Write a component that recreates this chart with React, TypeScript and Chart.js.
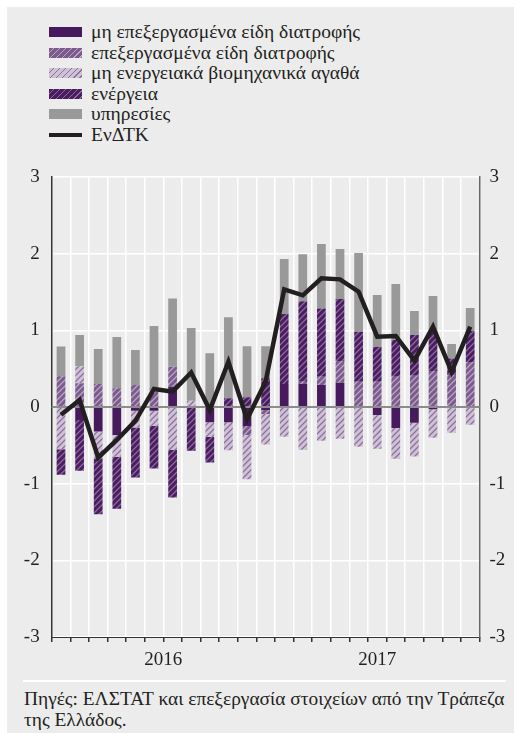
import React, { useEffect, useRef } from 'react';
import { Chart, registerables } from 'chart.js';

Chart.register(...registerables);

// ---- data ----
const monthLabels = [
  'Ιαν 16', 'Φεβ 16', 'Μαρ 16', 'Απρ 16', 'Μαϊ 16', 'Ιουν 16', 'Ιουλ 16', 'Αυγ 16', 'Σεπ 16', 'Οκτ 16', 'Νοε 16', 'Δεκ 16',
  'Ιαν 17', 'Φεβ 17', 'Μαρ 17', 'Απρ 17', 'Μαϊ 17', 'Ιουν 17', 'Ιουλ 17', 'Αυγ 17', 'Σεπ 17', 'Οκτ 17', 'Νοε 17',
];
const yearLabels = ['2016', '2017'];
const monthsPerYear = [12, 11];
const yTickValues = [-3, -2, -1, 0, 1, 2, 3];

const unprocessedFood = [0, -0.17, -0.32, -0.365, -0.05, -0.05, 0.265, 0, -0.2, -0.2, -0.248, -0.04, 0.3, 0.3, 0.287, 0.317, 0, -0.104, -0.274, -0.204, -0.03, 0, 0];
const processedFood = [0.4, 0.31, 0.3, 0.243, 0.287, 0.243, 0.26, 0, 0, 0, -0.117, -0.05, 0, 0.03, 0.109, 0.283, 0.33, 0.33, 0.396, 0.409, 0.47, 0.417, 0.587];
const nonEnergyGoods = [-0.55, 0.22, -0.35, -0.283, -0.217, -0.196, -0.56, 0.08, -0.19, -0.365, -0.578, -0.4, -0.387, -0.557, -0.44, -0.413, -0.517, -0.44, -0.4, -0.443, -0.37, -0.335, -0.23];
const energy = [-0.335, -0.66, -0.73, -0.678, -0.652, -0.557, -0.62, -0.57, -0.335, 0.113, 0.126, 0.374, 0.913, 1.05, 0.89, 0.81, 0.652, 0.457, 0.478, 0.53, 0.513, 0.217, 0.404];
const services = [0.39, 0.41, 0.456, 0.67, 0.457, 0.813, 0.89, 0.95, 0.7, 1.057, 0.665, 0.417, 0.717, 0.613, 0.84, 0.65, 1.026, 0.674, 0.73, 0.313, 0.465, 0.187, 0.3];
const hicp = [-0.1, 0.09, -0.66, -0.43, -0.18, 0.235, 0.2, 0.45, -0.04, 0.59, -0.16, 0.33, 1.535, 1.457, 1.678, 1.665, 1.504, 0.917, 0.926, 0.604, 1.048, 0.46, 1.048];

const seriesNames = [
  'μη επεξεργασμένα είδη διατροφής',
  'επεξεργασμένα είδη διατροφής',
  'μη ενεργειακά βιομηχανικά αγαθά',
  'ενέργεια',
  'υπηρεσίες',
  'ΕνΔΤΚ',
];

// ---- styles ----
const FONT = '"Liberation Serif", "Times New Roman", serif';
const TEXT = '#231f20';
const C_DARK = '#461a5c';
const P_PROC = { bg: '#7b5b8c', fg: '#b9a5c5' };
const P_NONEN = { bg: '#cfc1d6', fg: '#8d719d' };
const P_ENERGY = { bg: '#4a1d60', fg: '#8a6b9c' };
const C_SERV = '#999999';
const C_LINE = '#231f20';
const AXIS_FONT_SIZE = 19;

function makePattern(bg: string, fg: string): CanvasPattern | string {
  const s = 6;
  const c = document.createElement('canvas');
  c.width = s;
  c.height = s;
  const g = c.getContext('2d');
  if (!g) return bg;
  g.fillStyle = bg;
  g.fillRect(0, 0, s, s);
  g.strokeStyle = fg;
  g.lineWidth = 1.3;
  g.beginPath();
  g.moveTo(-1, s + 1);
  g.lineTo(s + 1, -1);
  g.moveTo(-1, 1);
  g.lineTo(1, -1);
  g.moveTo(s - 1, s + 1);
  g.lineTo(s + 1, s - 1);
  g.stroke();
  const p = g.createPattern(c, 'repeat');
  return p || bg;
}

const cssHatch = (bg: string, fg: string) =>
  `repeating-linear-gradient(135deg, ${bg} 0px, ${bg} 3px, ${fg} 3px, ${fg} 4.2px)`;

const legendSwatches: React.CSSProperties[] = [
  { background: C_DARK, height: 10 },
  { background: cssHatch(P_PROC.bg, P_PROC.fg), height: 10 },
  { background: cssHatch(P_NONEN.bg, P_NONEN.fg), height: 10 },
  { background: cssHatch(P_ENERGY.bg, P_ENERGY.fg), height: 10 },
  { background: C_SERV, height: 10 },
  { background: C_LINE, height: 4 },
];

const zeroLinePlugin = {
  id: 'zeroLine',
  beforeDatasetDraw(chart: any, args: any) {
    if (args.meta.type !== 'line') return;
    const y = chart.scales.y.getPixelForValue(0);
    const { left, right } = chart.chartArea;
    const ctx = chart.ctx;
    ctx.save();
    ctx.strokeStyle = '#8c8c8c';
    ctx.lineWidth = 2;
    ctx.beginPath();
    ctx.moveTo(left, y);
    ctx.lineTo(right, y);
    ctx.stroke();
    ctx.restore();
  },
};

// year labels centred under each year's months on the category scale
const yearLabelPlugin = {
  id: 'yearLabels',
  afterDraw(chart: any) {
    const x = chart.scales.x;
    const ctx = chart.ctx;
    ctx.save();
    ctx.fillStyle = TEXT;
    ctx.font = `${AXIS_FONT_SIZE}px ${FONT}`;
    ctx.textAlign = 'center';
    ctx.textBaseline = 'middle';
    let acc = 0;
    monthsPerYear.forEach((n, i) => {
      const center = acc + (n - 1) / 2;
      ctx.fillText(yearLabels[i], x.getPixelForValue(center), chart.chartArea.bottom + 23);
      acc += n;
    });
    ctx.restore();
  },
};

export default function App() {
  const ref = useRef<HTMLCanvasElement | null>(null);

  useEffect(() => {
    const canvas = ref.current;
    if (!canvas) return;

    const barCommon = {
      type: 'bar' as const,
      borderWidth: 0,
      barPercentage: 0.47,
      categoryPercentage: 1,
      order: 1,
      stack: 'bars',
    };

    const tickFont = { family: FONT, size: AXIS_FONT_SIZE };

    const chart = new Chart(canvas, {
      type: 'bar',
      data: {
        labels: monthLabels,
        datasets: [
          { ...barCommon, label: seriesNames[0], data: unprocessedFood, backgroundColor: C_DARK },
          { ...barCommon, label: seriesNames[1], data: processedFood, backgroundColor: makePattern(P_PROC.bg, P_PROC.fg) as any },
          { ...barCommon, label: seriesNames[2], data: nonEnergyGoods, backgroundColor: makePattern(P_NONEN.bg, P_NONEN.fg) as any },
          { ...barCommon, label: seriesNames[3], data: energy, backgroundColor: makePattern(P_ENERGY.bg, P_ENERGY.fg) as any },
          { ...barCommon, label: seriesNames[4], data: services, backgroundColor: C_SERV },
          {
            type: 'line' as const,
            label: seriesNames[5],
            data: hicp,
            borderColor: C_LINE,
            backgroundColor: C_LINE,
            borderWidth: 4.5,
            pointRadius: 0,
            tension: 0,
            borderJoinStyle: 'miter',
            order: 0,
            stack: 'line',
          } as any,
        ],
      },
      options: {
        animation: false,
        responsive: false,
        maintainAspectRatio: false,
        layout: { padding: { top: 27, left: 0, right: 0, bottom: 0 } },
        plugins: { legend: { display: false }, tooltip: { enabled: false } },
        scales: {
          x: {
            type: 'category',
            stacked: true,
            offset: true,
            position: 'bottom',
            grid: { offset: true, color: '#ffffff', lineWidth: 1.5, tickColor: '#333333', tickLength: 5, drawTicks: true },
            border: { display: true, color: '#333333', width: 1 },
            ticks: { display: false },
            afterFit: (s: any) => { s.height = 33; },
          },
          y: {
            type: 'linear',
            position: 'left',
            stacked: true,
            min: -3,
            max: 3,
            afterBuildTicks: (s: any) => { s.ticks = yTickValues.map((v) => ({ value: v })); },
            grid: {
              drawTicks: false,
              color: (c: any) => (c.tick && c.tick.value === 0 ? '#8c8c8c' : '#ffffff'),
              lineWidth: (c: any) => (c.tick && c.tick.value === 0 ? 2 : 1.5),
            },
            border: { display: true, color: '#333333', width: 1.5 },
            ticks: { padding: 12, color: TEXT, font: tickFont },
            afterFit: (s: any) => { s.width = 44.7; },
          },
          y2: {
            type: 'linear',
            position: 'right',
            min: -3,
            max: 3,
            afterBuildTicks: (s: any) => { s.ticks = yTickValues.map((v) => ({ value: v })); },
            grid: { display: false, drawTicks: false },
            border: { display: true, color: '#666666', width: 1.5 },
            ticks: { padding: 10, color: TEXT, font: tickFont },
            afterFit: (s: any) => { s.width = 34.5; },
          },
        },
      } as any,
      plugins: [zeroLinePlugin, yearLabelPlugin],
    });

    return () => chart.destroy();
  }, []);

  return (
    <div
      style={{
        position: 'absolute',
        left: 7,
        top: 7,
        width: 507,
        height: 726,
        background: '#ececec',
        fontFamily: FONT,
        color: TEXT,
        overflow: 'hidden',
      }}
    >
      <div style={{ position: 'absolute', left: 42, top: 15 }}>
        {seriesNames.map((name, i) => (
          <div key={name} style={{ display: 'flex', alignItems: 'center', height: 20.5 }}>
            <div style={{ width: 33, marginRight: 9, flexShrink: 0, ...legendSwatches[i] }} />
            <span style={{ fontSize: 19.5, lineHeight: '20px', whiteSpace: 'nowrap' }}>{name}</span>
          </div>
        ))}
      </div>
      <canvas
        ref={ref}
        width={507}
        height={520}
        style={{ position: 'absolute', left: 0, top: 143, width: 507, height: 520 }}
      />
      <div style={{ position: 'absolute', left: 16, top: 673, width: 483, height: 2, background: '#ffffff' }} />
      <div style={{ position: 'absolute', left: 17, top: 681, fontSize: 19.4, lineHeight: '21px', whiteSpace: 'nowrap' }}>
        Πηγές: ΕΛΣΤΑΤ και επεξεργασία στοιχείων από την Τράπεζα
        <br />
        της Ελλάδος.
      </div>
    </div>
  );
}
